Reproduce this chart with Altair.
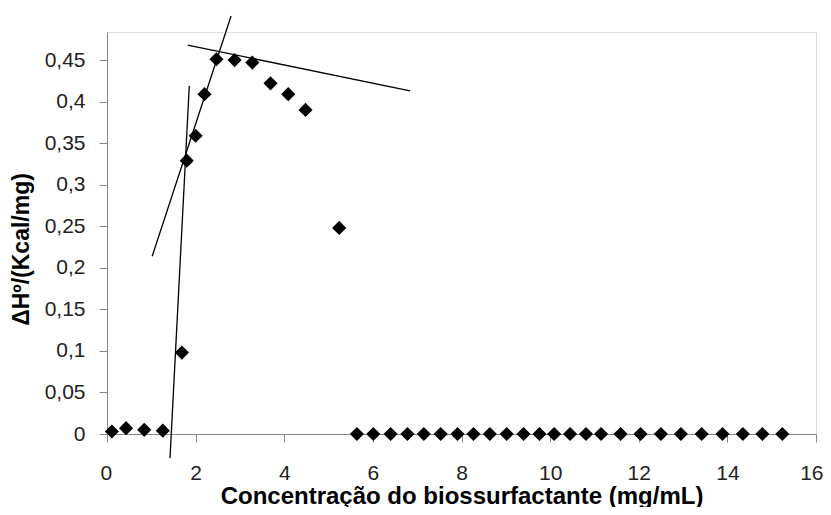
import altair as alt
import pandas as pd

# Scatter data (concentration mg/mL, ΔH°)
conc = [0.11, 0.43, 0.84, 1.26, 1.69, 1.80, 2.00, 2.20, 2.47, 2.88, 3.28, 3.69, 4.09, 4.48, 5.24,
        5.64, 6.01, 6.40, 6.78, 7.15, 7.53, 7.91, 8.27, 8.64, 9.02, 9.40, 9.76, 10.09, 10.45,
        10.81, 11.15, 11.59, 12.04, 12.50, 12.95, 13.42, 13.89, 14.35, 14.79, 15.24]
dh = [0.003, 0.007, 0.005, 0.004, 0.098, 0.329, 0.359, 0.409, 0.451, 0.450, 0.447, 0.422, 0.409, 0.390, 0.248,
      0, 0, 0, 0, 0, 0, 0, 0, 0, 0, 0, 0, 0, 0,
      0, 0, 0, 0, 0, 0, 0, 0, 0, 0, 0]

# Tangent lines (two endpoints each)
line_id = ["a", "a", "b", "b", "c", "c"]
line_x = [1.422, 1.857, 1.02, 2.80, 1.82, 6.84]
line_y = [-0.029, 0.419, 0.214, 0.503, 0.468, 0.413]

y_ticks = [0, 0.05, 0.1, 0.15, 0.2, 0.25, 0.3, 0.35, 0.4, 0.45]
x_ticks = [0, 2, 4, 6, 8, 10, 12, 14, 16]

pts = pd.DataFrame({"x": conc, "y": dh})
lines = pd.DataFrame({"id": line_id, "x": line_x, "y": line_y})

FONT = "Liberation Sans"

xscale = alt.Scale(domain=[0, 16], nice=False, zero=False)
yscale = alt.Scale(domain=[0, 0.4838], nice=False, zero=False)

xaxis = alt.Axis(
    values=x_ticks, title="Concentração do biossurfactante (mg/mL)",
    grid=False, tickSize=8, tickColor="#868686", domainColor="#868686",
    labelFont=FONT, labelFontSize=21, labelColor="#222222", labelPadding=20,
    labelFlush=True, labelFlushOffset=7,
    titleFont=FONT, titleFontSize=24, titleFontWeight="bold", titleColor="#000000",
    titleY=50,
)
yaxis = alt.Axis(
    values=y_ticks, title="ΔHº/(Kcal/mg)",
    labelExpr="replace(format(datum.value, '.2~f'), '.', ',')",
    grid=False, tickSize=8, tickColor="#868686", domainColor="#868686",
    labelFont=FONT, labelFontSize=21, labelColor="#222222", labelPadding=14,
    titleFont=FONT, titleFontSize=23, titleFontWeight="bold", titleColor="#000000",
    titleX=-74, titleY=217, labelFlush=False,
)

points = alt.Chart(pts).mark_point(
    shape="diamond", filled=True, color="#000000", size=200, opacity=1
).encode(
    x=alt.X("x:Q", scale=xscale, axis=xaxis),
    y=alt.Y("y:Q", scale=yscale, axis=yaxis),
)

tangents = alt.Chart(lines).mark_line(
    color="#000000", strokeWidth=1.3, clip=False
).encode(
    x=alt.X("x:Q", scale=xscale),
    y=alt.Y("y:Q", scale=yscale),
    detail="id:N",
)

chart = alt.layer(tangents, points).properties(
    width=709, height=402,
    autosize=alt.AutoSizeParams(type="none"),
    padding={"left": 99, "top": 24, "right": 7, "bottom": 73},
).configure_view(stroke=None).configure(background="#ffffff")

chart.save("out.html", embed_options={"renderer": "svg", "actions": False})
